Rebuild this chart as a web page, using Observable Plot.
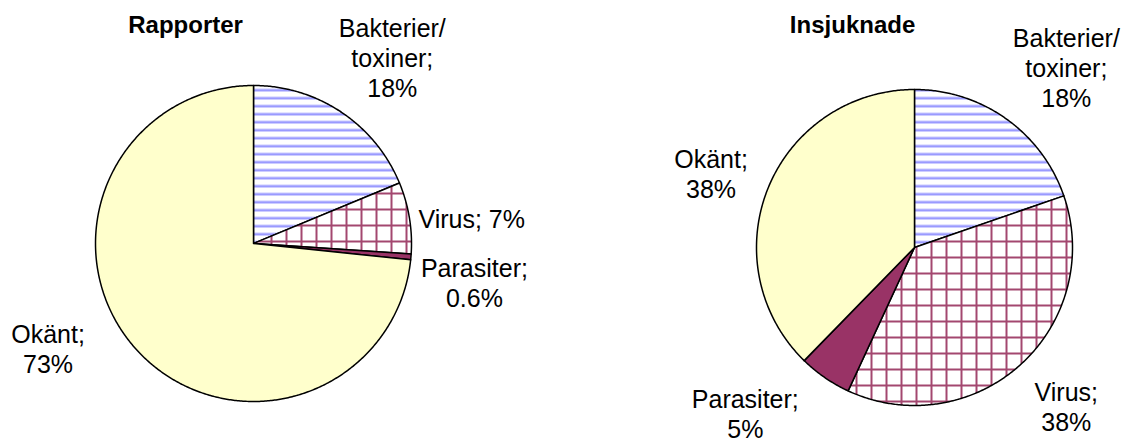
<!DOCTYPE html>
<html><head><meta charset="utf-8">
<script src="https://cdn.jsdelivr.net/npm/d3@7"></script>
<script src="https://cdn.jsdelivr.net/npm/@observablehq/plot@0.6"></script>
<style>body{margin:0;background:#fff;}</style>
</head><body><div id="chart"></div>
<script>
// ---- data ----
const categories = ["Bakterier/\ntoxiner", "Virus", "Parasiter", "Okänt"];
const titles = ["Rapporter", "Insjuknade"];
const rapporterValues = [18.75, 7.3, 0.6, 73.35];
const insjuknadeValues = [19.7, 37.2, 5.4, 37.7];
const rapporterLabels = ["18%", "7%", "0.6%", "73%"];
const insjuknadeLabels = ["18%", "38%", "5%", "38%"];

// ---- styles / layout (not data) ----
const fills = ["url(#stripes)", "url(#grid)", "#993366", "#FFFFCC"];
const layout = [
  {cx: 0, cy: 0, titleDx: -0.43, labelNudge: [2.95, 2.8, 5.2, 15], labelR: [1.47, 1.39, 1.42, 1.46], inline: [false, true, false, false]},
  {cx: 4.1835, cy: -0.0253, titleDx: -0.392, labelNudge: [4.7, -1.6, 11, -2.2], labelR: [1.49, 1.39, 1.5, 1.37], inline: [false, false, false, false]}
];
const pies = [
  {title: titles[0], values: rapporterValues, labels: rapporterLabels},
  {title: titles[1], values: insjuknadeValues, labels: insjuknadeLabels}
];

const rad = Math.PI / 180;
const sliceData = [];
const labelData = [];
const titleData = [];
pies.forEach((p, pi) => {
  const L = layout[pi];
  const total = d3.sum(p.values);
  let acc = 0;
  p.values.forEach((v, i) => {
    const a0 = acc / total * 360;
    acc += v;
    const a1 = acc / total * 360;
    const key = pi + "-" + i;
    sliceData.push({x: L.cx, y: L.cy, key, fill: fills[i]});
    const n = Math.max(2, Math.ceil((a1 - a0) / 0.5));
    for (let k = 0; k <= n; k++) {
      const a = (a0 + (a1 - a0) * k / n) * rad;
      sliceData.push({x: L.cx + Math.sin(a), y: L.cy + Math.cos(a), key, fill: fills[i]});
    }
    const mid = ((a0 + a1) / 2 + L.labelNudge[i]) * rad;
    const r = L.labelR[i];
    labelData.push({
      x: L.cx + r * Math.sin(mid),
      y: L.cy + r * Math.cos(mid),
      text: categories[i] + ";" + (L.inline[i] ? " " : "\n") + p.labels[i]
    });
  });
  titleData.push({x: L.cx + L.titleDx, y: 1.383, text: p.title});
});

const font = "'Liberation Sans', Arial, sans-serif";
const chart = Plot.plot({
  width: 1130,
  height: 446,
  margin: 0,
  x: {domain: [-1.6013, 5.5506], axis: null},
  y: {domain: [-1.2848, 1.538], axis: null},
  color: {type: "identity"},
  style: {fontFamily: font, background: "#fff"},
  marks: [
    Plot.line(sliceData, {x: "x", y: "y", z: "key", fill: "fill", stroke: "#000", strokeWidth: 1.5, strokeLinejoin: "round", curve: "linear-closed"}),
    Plot.text(labelData, {x: "x", y: "y", text: "text", fontSize: 25, lineHeight: 1.2, textAnchor: "middle", lineAnchor: "middle", fill: "#000", fontFamily: font}),
    Plot.text(titleData, {x: "x", y: "y", text: "text", fontSize: 24, fontWeight: "bold", textAnchor: "middle", lineAnchor: "middle", fill: "#000", fontFamily: font})
  ]
});

const defs = d3.create("svg:defs");
const st = defs.append("pattern").attr("id", "stripes").attr("patternUnits", "userSpaceOnUse").attr("width", 8).attr("height", 8);
st.append("rect").attr("width", 8).attr("height", 8).attr("fill", "#fff");
st.append("rect").attr("y", 0).attr("width", 8).attr("height", 1).attr("fill", "#c8c8ff");
st.append("rect").attr("y", 1).attr("width", 8).attr("height", 2).attr("fill", "#9a9aff");
const gr = defs.append("pattern").attr("id", "grid").attr("patternUnits", "userSpaceOnUse").attr("width", 15).attr("height", 16);
gr.append("rect").attr("width", 15).attr("height", 16).attr("fill", "#fff");
gr.append("rect").attr("x", 0).attr("width", 2).attr("height", 16).attr("fill", "#a3476f");
gr.append("rect").attr("y", 0).attr("width", 15).attr("height", 2).attr("fill", "#a3476f");
chart.insertBefore(defs.node(), chart.firstChild);

document.getElementById("chart").appendChild(chart);
</script>
</body></html>
